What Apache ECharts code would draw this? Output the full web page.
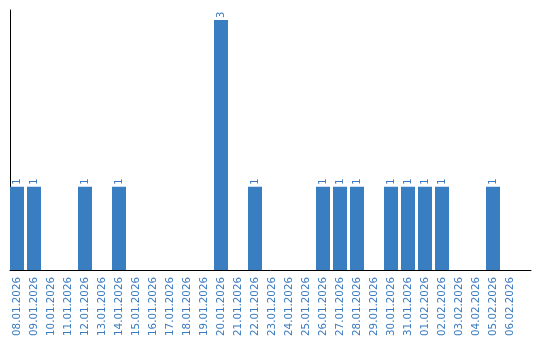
<!DOCTYPE html>
<html><head><meta charset="utf-8">
<script src="https://cdn.jsdelivr.net/npm/echarts@6/dist/echarts.min.js"></script>
<style>html,body{margin:0;padding:0;background:#fff}#c{width:540px;height:340px}</style>
</head><body><div id="c"></div>
<script>
const categories = ["08.01.2026","09.01.2026","10.01.2026","11.01.2026","12.01.2026","13.01.2026","14.01.2026","15.01.2026","16.01.2026","17.01.2026","18.01.2026","19.01.2026","20.01.2026","21.01.2026","22.01.2026","23.01.2026","24.01.2026","25.01.2026","26.01.2026","27.01.2026","28.01.2026","29.01.2026","30.01.2026","31.01.2026","01.02.2026","02.02.2026","03.02.2026","04.02.2026","05.02.2026","06.02.2026"];
const counts = [1,1,0,0,1,0,1,0,0,0,0,0,3,0,1,0,0,0,1,1,1,0,1,1,1,1,0,0,1,0];
const barColor = '#3a7ec2';
const chart = echarts.init(document.getElementById('c'));
chart.setOption({
  animation:false,
  grid:[{left:8.5,width:510,top:10,bottom:70},{left:10,width:521,top:10,bottom:70}],
  xAxis:[{type:'category',gridIndex:0,data:categories,axisLine:{show:false},axisTick:{show:false},
    axisLabel:{interval:0,rotate:90,color:'#3a7bbf',fontFamily:'DejaVu Sans',fontSize:10.3,margin:7}},
    {type:'value',gridIndex:1,min:0,max:1,axisLine:{show:true,lineStyle:{color:'#000',width:1}},axisTick:{show:false},axisLabel:{show:false},splitLine:{show:false}}],
  yAxis:[{type:'value',gridIndex:0,min:0,max:3.12,axisLine:{show:false},axisTick:{show:false},axisLabel:{show:false},splitLine:{show:false}},
    {type:'value',gridIndex:1,min:0,max:1,position:'left',axisLine:{show:true,onZero:false,lineStyle:{color:'#000',width:1}},axisTick:{show:false},axisLabel:{show:false},splitLine:{show:false}}],
  series:[{type:'bar',xAxisIndex:0,yAxisIndex:0,data:counts.map(v=>v===0?null:v),barWidth:14,itemStyle:{color:barColor},
    label:{show:true,position:'top',rotate:90,align:'left',verticalAlign:'middle',distance:2,color:'#3a7bbf',textBorderWidth:0,fontFamily:'DejaVu Sans',fontSize:10}}]
});
</script></body></html>
